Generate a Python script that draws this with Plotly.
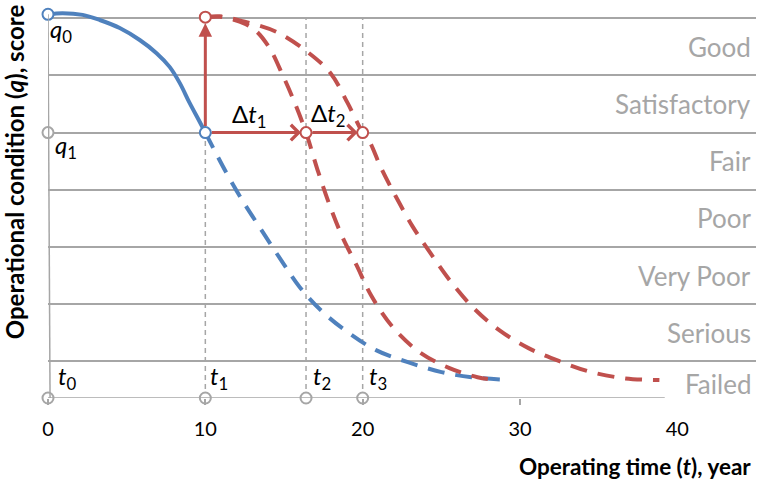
import plotly.graph_objects as go

# ---------------- data ----------------
# condition grid levels (score units) and category names (top to bottom)
GRID_LEVELS = [1, 2, 3, 4, 5, 6, 7]
CATEGORIES = ["Good", "Satisfactory", "Fair", "Poor", "Very Poor", "Serious", "Failed"]
CATEGORY_Y = [6.5, 5.5, 4.5, 3.5, 2.5, 1.5, 0.6]

X_TICKS = [0, 10, 20, 30, 40]
X_MINOR_TICKS = [0, 10, 20, 30]

Y_BOTTOM = 0.357
X_AXIS_END = 39.2

Q0 = 7.07
Q0_RED = 7.02
Q1 = 5.0
T_MARKS = [0, 10, 16.4, 20]          # t0, t1, t2, t3

# blue: original deterioration (solid part, then projected dashed)
blue_solid_x = [0, 0.93, 2.2, 3.29, 4.56, 5.83, 6.9, 7.73, 8.37, 9.0, 9.64, 10]
blue_solid_y = [7.07, 7.09, 7.06, 6.97, 6.83, 6.62, 6.39, 6.15, 5.87, 5.52, 5.19, 5.0]

blue_dash_x = [10, 11.35, 12.43, 13.58, 14.91, 15.99, 17.39, 19.04, 20.88, 22.92, 25.01, 26.92, 28.89]
blue_dash_y = [5.0, 4.29, 3.78, 3.29, 2.73, 2.30, 1.88, 1.51, 1.19, 0.98, 0.81, 0.72, 0.68]

# red: after intervention (two scenarios)
redA_x = [10, 10.91, 12.18, 13.13, 14.08, 14.91, 15.61, 16.4, 17.13, 17.90, 18.72, 19.61,
          20.56, 21.90, 23.61, 25.52, 27.30, 28.25]
redA_y = [7.02, 7.03, 6.94, 6.80, 6.48, 6.01, 5.57, 5.0, 4.35, 3.73, 3.17, 2.68,
          2.14, 1.60, 1.16, 0.88, 0.72, 0.68]

redB_x = [10, 11.04, 12.50, 14.53, 16.50, 17.96, 19.04, 20.0, 20.44, 21.14, 22.09, 23.17,
          24.31, 25.58, 27.05, 28.70, 30.54, 32.51, 34.54, 36.70, 38.86]
redB_y = [7.02, 7.03, 6.94, 6.76, 6.41, 6.04, 5.52, 5.0, 4.84, 4.40, 3.89, 3.36,
          2.89, 2.40, 1.93, 1.54, 1.23, 1.0, 0.81, 0.70, 0.67]

# ---------------- style ----------------
BLUE = "#4F81BD"
RED = "#C0504D"
GRAY = "#A6A6A6"
FONT = "Lato"

fig = go.Figure()

# gray dashed verticals at t1..t3
for t in T_MARKS[1:]:
    fig.add_trace(go.Scatter(x=[t, t], y=[Y_BOTTOM, 7], mode="lines",
                             line=dict(color=GRAY, width=1.5, dash="5px,4px"),
                             hoverinfo="skip", showlegend=False))

# curves
fig.add_trace(go.Scatter(x=blue_dash_x, y=blue_dash_y, mode="lines", line_shape="spline",
                         line=dict(color=BLUE, width=4, dash="17px,11px"), showlegend=False))
fig.add_trace(go.Scatter(x=redA_x, y=redA_y, mode="lines", line_shape="spline",
                         line=dict(color=RED, width=4, dash="17px,11px"), showlegend=False))
fig.add_trace(go.Scatter(x=redB_x, y=redB_y, mode="lines", line_shape="spline",
                         line=dict(color=RED, width=4, dash="17px,11px"), showlegend=False))
fig.add_trace(go.Scatter(x=blue_solid_x, y=blue_solid_y, mode="lines", line_shape="spline",
                         line=dict(color=BLUE, width=4), showlegend=False))

# axis lines (y-axis slightly slanted as in the original)
fig.add_shape(type="line", x0=0, y0=Q0, x1=0.13, y1=Y_BOTTOM, line=dict(color=GRAY, width=1.5))
fig.add_shape(type="line", x0=0, y0=Y_BOTTOM, x1=X_AXIS_END, y1=Y_BOTTOM,
              line=dict(color=GRAY, width=1.5))

# arrows
arrow_common = dict(xref="x", yref="y", axref="x", ayref="y", showarrow=True,
                    arrowcolor=RED, arrowwidth=3, text="")
fig.add_annotation(x=T_MARKS[1], y=Q0_RED, ax=T_MARKS[1], ay=Q1, arrowhead=2, arrowsize=0.9,
                   standoff=6, startstandoff=5, **arrow_common)
fig.add_annotation(x=T_MARKS[2], y=Q1, ax=T_MARKS[1], ay=Q1, arrowhead=4, arrowsize=1,
                   standoff=5, startstandoff=5, **arrow_common)
fig.add_annotation(x=T_MARKS[3], y=Q1, ax=T_MARKS[2], ay=Q1, arrowhead=4, arrowsize=1,
                   standoff=5, startstandoff=5, **arrow_common)

# circle markers
mk = dict(size=11, color="white")
fig.add_trace(go.Scatter(x=T_MARKS + [0], y=[Y_BOTTOM] * len(T_MARKS) + [Q1], mode="markers",
                         marker=dict(**mk, line=dict(color=GRAY, width=2)),
                         cliponaxis=False, showlegend=False))
fig.add_trace(go.Scatter(x=[0, T_MARKS[1]], y=[Q0, Q1], mode="markers",
                         marker=dict(**mk, line=dict(color=BLUE, width=2)),
                         cliponaxis=False, showlegend=False))
fig.add_trace(go.Scatter(x=[T_MARKS[1], T_MARKS[2], T_MARKS[3]], y=[Q0_RED, Q1, Q1], mode="markers",
                         marker=dict(**mk, line=dict(color=RED, width=2)),
                         cliponaxis=False, showlegend=False))

# point labels
lab_font = dict(family=FONT, size=24, color="black")
fig.add_annotation(x=0, y=Q0, text="<i>q</i><sub>0</sub>", showarrow=False, xanchor="left",
                   yanchor="top", xshift=0, yshift=2, font=lab_font)
fig.add_annotation(x=0, y=Q1, text="<i>q</i><sub>1</sub>", showarrow=False, xanchor="left",
                   yanchor="top", xshift=5, yshift=5, font=lab_font)
t_shift = [8, 3, 5, 4]
for i, t in enumerate(T_MARKS):
    fig.add_annotation(x=t, y=Y_BOTTOM, text=f"<i>t</i><sub>{i}</sub>", showarrow=False,
                       xanchor="left", yanchor="bottom", xshift=t_shift[i], yshift=2, font=lab_font)
fig.add_annotation(x=(T_MARKS[1] + T_MARKS[2]) / 2, y=Q1, text="Δ<i>t</i><sub>1</sub>",
                   showarrow=False, xanchor="center", yanchor="bottom", xshift=-6, yshift=-1,
                   font=lab_font)
fig.add_annotation(x=(T_MARKS[2] + T_MARKS[3]) / 2, y=Q1, text="Δ<i>t</i><sub>2</sub>",
                   showarrow=False, xanchor="center", yanchor="bottom", xshift=-6, yshift=0,
                   font=lab_font)

# category labels on the right
for name, yv in zip(CATEGORIES, CATEGORY_Y):
    fig.add_annotation(xref="paper", x=1, y=yv, text=name, showarrow=False, xanchor="right",
                       yanchor="middle", xshift=-3, font=dict(family=FONT, size=26, color=GRAY))

# axis titles
fig.add_annotation(xref="paper", yref="paper", x=1, y=0, xanchor="right", yanchor="middle",
                   xshift=-3, yshift=-68, showarrow=False,
                   text="<b>Operating time (<i>t</i>), year</b>",
                   font=dict(family=FONT, size=22.5, color="black"))
fig.add_annotation(xref="paper", yref="paper", x=0, y=0.573, xanchor="center", yanchor="middle",
                   xshift=-34, textangle=-90, showarrow=False,
                   text="<b>Operational condition (<i>q</i>), score</b>",
                   font=dict(family=FONT, size=24, color="black"))

fig.update_layout(
    width=759, height=479,
    margin=dict(l=48, r=3, t=4, b=81),
    plot_bgcolor="white", paper_bgcolor="white",
    showlegend=False,
    xaxis=dict(range=[0, 45], showgrid=False, zeroline=False, showline=False,
               tickmode="array", tickvals=X_TICKS, ticks="",
               ticklabelstandoff=17,
               tickfont=dict(family=FONT, size=20, color="black"),
               minor=dict(tickmode="array", tickvals=X_MINOR_TICKS, ticks="outside", ticklen=6,
                          tickcolor=GRAY, tickwidth=1.5, showgrid=False)),
    yaxis=dict(range=[Y_BOTTOM, 7.25], showgrid=True, gridcolor=GRAY, gridwidth=1.5,
               zeroline=False, showline=False, tickmode="array", tickvals=GRID_LEVELS,
               showticklabels=False, ticks=""),
)

fig.write_html("out.html", config={"displayModeBar": False},
               post_script="document.body.style.margin='0';")
